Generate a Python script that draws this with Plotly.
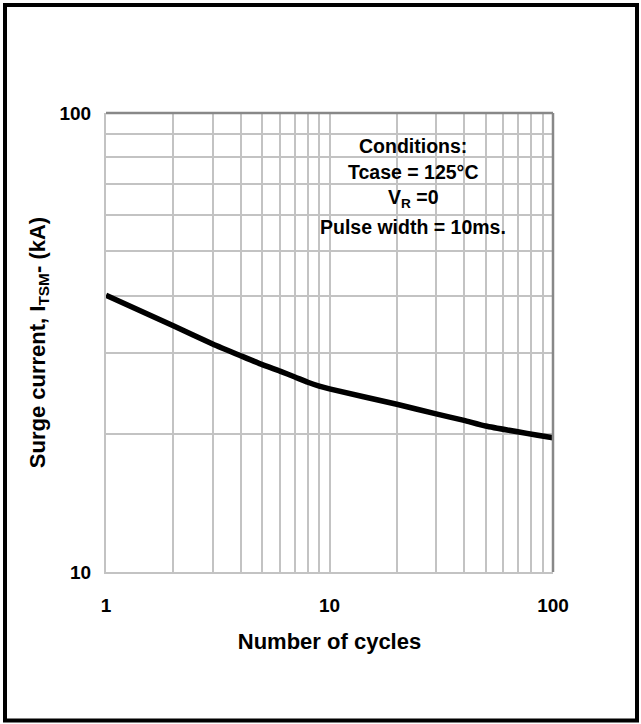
import plotly.graph_objects as go

# Data
cycles = [1, 2, 3, 4, 5, 6, 7, 8, 9, 10, 20, 30, 40, 50, 100]
surge_ka = [40.1, 34.4, 31.4, 29.6, 28.3, 27.4, 26.6, 25.9, 25.4, 25.05, 23.2, 22.1, 21.4, 20.8, 19.6]

x_major = [1, 10, 100]
x_labels = ["1", "10", "100"]
x_minor = [2, 3, 4, 5, 6, 7, 8, 9, 20, 30, 40, 50, 60, 70, 80, 90]
y_major = [10, 100]
y_labels = ["10", "100"]
y_minor = [20, 30, 40, 50, 60, 70, 80, 90]

condition_lines = ["Conditions:", "Tcase = 125°C", "V<sub>R</sub> =0", "Pulse width = 10ms."]

FONT = "Liberation Sans, Arial, sans-serif"
GRID = "#C3C3C3"

W, H = 641, 724
L, R, T, B = 106, 88, 113, 152
PW, PH = W - L - R, H - T - B


def px_x(px):
    return (px - L) / PW


def px_y(py):
    return (H - B - py) / PH


fig = go.Figure()
fig.add_trace(go.Scatter(x=cycles, y=surge_ka, mode="lines",
                         line=dict(color="black", width=5.5, shape="spline", smoothing=0.5),
                         showlegend=False, hoverinfo="skip"))

fig.update_layout(
    width=W, height=H,
    margin=dict(l=L, r=R, t=T, b=B),
    paper_bgcolor="white", plot_bgcolor="white",
    font=dict(family=FONT, color="black"),
    xaxis=dict(type="log", range=[0, 2], tickmode="array", tickvals=x_major, ticktext=x_labels,
               showgrid=True, gridcolor=GRID, gridwidth=2, zeroline=False,
               minor=dict(tickmode="array", tickvals=x_minor, showgrid=True,
                          gridcolor=GRID, gridwidth=2, ticks=""),
               showline=True, linecolor=GRID, linewidth=2,
               ticks="", ticklabelstandoff=15,
               tickfont=dict(size=19, family=FONT, weight="bold"),
               title=dict(text="Number of cycles", font=dict(size=22, family=FONT, weight="bold"),
                          standoff=19)),
    yaxis=dict(type="log", range=[1, 2], tickmode="array", tickvals=y_major, ticktext=y_labels,
               showgrid=True, gridcolor=GRID, gridwidth=2, zeroline=False,
               minor=dict(tickmode="array", tickvals=y_minor, showgrid=True,
                          gridcolor=GRID, gridwidth=2, ticks=""),
               showline=True, linecolor=GRID, linewidth=2,
               ticks="", ticklabelstandoff=9,
               tickfont=dict(size=19, family=FONT, weight="bold"),
               title=dict(text="Surge current, I<sub>TSM</sub>- (kA)",
                          font=dict(size=22, family=FONT, weight="bold"), standoff=8)),
)

shapes = [
    # top and right frame lines (darker)
    dict(type="line", xref="paper", yref="paper", x0=0, x1=1, y0=1, y1=1,
         line=dict(color="#888888", width=2.5), layer="above"),
    dict(type="line", xref="paper", yref="paper", x0=1, x1=1, y0=0, y1=1,
         line=dict(color="#888888", width=2.5), layer="above"),
    # white box behind conditions text
    dict(type="rect", xref="paper", yref="paper", x0=px_x(308), x1=px_x(518),
         y0=px_y(250), y1=px_y(127), fillcolor="white", line=dict(width=0), layer="between"),
    # outer figure border
    dict(type="rect", xref="paper", yref="paper", x0=px_x(5), x1=px_x(637),
         y0=px_y(720.5), y1=px_y(5), line=dict(color="black", width=4), layer="above"),
]
fig.update_layout(shapes=shapes)

line_y = [146, 172, 198, 227]
for txt, yy in zip(condition_lines, line_y):
    fig.add_annotation(text=txt, xref="paper", yref="paper", x=px_x(413), y=px_y(yy),
                       xanchor="center", yanchor="middle", showarrow=False,
                       font=dict(size=19.5, family=FONT, color="black", weight="bold"))

fig.write_html("out.html", config={"displayModeBar": False},
               post_script="document.body.style.margin='0';document.body.style.overflow='hidden';")
